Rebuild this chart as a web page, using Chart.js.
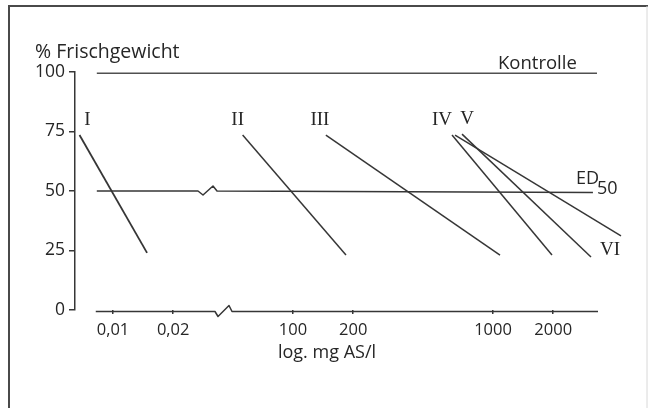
<!DOCTYPE html>
<html>
<head>
<meta charset="utf-8">
<script src="https://cdn.jsdelivr.net/npm/chart.js@4/dist/chart.umd.min.js"></script>
<style>
  html, body { margin: 0; padding: 0; background: #fff; }
  #wrap { width: 648px; height: 408px; position: relative; }
  canvas { display: block; }
</style>
</head>
<body>
<div id="wrap"><canvas id="c" width="648" height="408"></canvas></div>
<script>
// ---- data ----
const seriesNames = ['I', 'II', 'III', 'IV', 'V', 'VI'];
// concentration (mg AS/l) at start and end of each dose-response line
const startConc = [0.0068, 56, 146, 624, 700, 646];
const endConc   = [0.0148, 184, 1084, 1972, 3090, 4365];
// % Frischgewicht at start and end
const startPct  = [73.5, 73.5, 73.5, 73.5, 73.9, 73.5];
const endPct    = [24.0, 23.1, 23.1, 23.1, 22.3, 31.1];

const kontrolleConc = [0.0083, 3311];
const kontrollePct  = [99.5, 99.5];
const ed50Conc = [0.0083, 3160];
const ed50Pct  = 50;
const xAxisConc = [0.0082, 3350];

const xTickValues = [0.01, 0.02, 100, 200, 1000, 2000];
const xTickLabels = ['0,01', '0,02', '100', '200', '1000', '2000'];
const yTickValues = [0, 25, 50, 75, 100];

// broken log axis: values below 1 use log10 directly, values above are shifted left
function toU(v) {
  const l = Math.log10(v);
  return v < 1 ? l : l - 3.1;
}

const FONT = "'Open Sans', 'DejaVu Sans', sans-serif";
const SERIF = "'Liberation Serif', 'DejaVu Serif', serif";
const INK = '#262626';
const LINE = '#363636';

const datasets = seriesNames.map((name, i) => ({
  label: name,
  data: [{x: toU(startConc[i]), y: startPct[i]}, {x: toU(endConc[i]), y: endPct[i]}],
  borderColor: LINE,
  borderWidth: i === 0 ? 1.8 : 1.5,
  pointRadius: 0,
  fill: false,
  clip: false
}));
datasets.push({
  label: 'Kontrolle',
  data: kontrolleConc.map((c, i) => ({x: toU(c), y: kontrollePct[i]})),
  borderColor: '#505050',
  borderWidth: 1.6,
  pointRadius: 0,
  fill: false,
  clip: false
});

const labelOffsets = [[8, -15], [-5, -15], [-6, -15], [-10, -15], [5, -15]];

const decor = {
  id: 'decor',
  beforeDraw(chart) {
    const ctx = chart.ctx;
    ctx.save();
    ctx.fillStyle = '#fff';
    ctx.fillRect(0, 0, chart.width, chart.height);
    // frame
    ctx.strokeStyle = '#4a4a4a';
    ctx.lineWidth = 2;
    ctx.beginPath();
    ctx.moveTo(9, 410);
    ctx.lineTo(9, 6);
    ctx.lineTo(650, 6);
    ctx.stroke();
    ctx.strokeStyle = '#d8d8d8';
    ctx.lineWidth = 1;
    ctx.beginPath();
    ctx.moveTo(647, 6);
    ctx.lineTo(647, 408);
    ctx.stroke();
    ctx.restore();
  },
  afterDatasetsDraw(chart) {
    const ctx = chart.ctx;
    const xs = chart.scales.x, ys = chart.scales.y;
    ctx.save();
    ctx.strokeStyle = LINE;
    ctx.lineWidth = 1.5;
    ctx.lineJoin = 'round';

    // x axis line with break
    const y0 = ys.getPixelForValue(0) + 1.5;
    const xa = xs.getPixelForValue(toU(xAxisConc[0]));
    const xb = xs.getPixelForValue(toU(xAxisConc[1]));
    const bx = xs.getPixelForValue(-1.445);
    ctx.beginPath();
    ctx.moveTo(xa, y0);
    ctx.lineTo(bx - 9, y0);
    ctx.lineTo(bx - 6, y0 + 5);
    ctx.lineTo(bx + 5, y0 - 6);
    ctx.lineTo(bx + 8, y0);
    ctx.lineTo(xb, y0);
    ctx.stroke();

    // ED50 line with break
    const ye = ys.getPixelForValue(ed50Pct);
    const ea = xs.getPixelForValue(toU(ed50Conc[0]));
    const eb = xs.getPixelForValue(toU(ed50Conc[1]));
    const ex = xs.getPixelForValue(-1.525);
    ctx.beginPath();
    ctx.moveTo(ea, ye);
    ctx.lineTo(ex - 10, ye);
    ctx.lineTo(ex - 5, ye + 4);
    ctx.lineTo(ex + 5, ye - 5);
    ctx.lineTo(ex + 9, ye);
    ctx.lineTo(eb, ye + 1.5);
    ctx.stroke();

    // texts
    ctx.fillStyle = INK;
    ctx.textBaseline = 'middle';
    ctx.textAlign = 'left';
    ctx.font = '19.5px ' + FONT;
    ctx.fillText('% Frischgewicht', 35, 52);
    ctx.font = '18.5px ' + FONT;
    ctx.fillText('Kontrolle', 498, 64);
    ctx.font = '18px ' + FONT;
    ctx.fillText('ED', 576, 179);
    ctx.fillText('50', 597, 189);
    ctx.textAlign = 'center';
    ctx.font = '18px ' + FONT;
    ctx.fillText('log. mg AS/l', 327, 353);

    // series labels
    ctx.font = '19px ' + SERIF;
    ctx.textAlign = 'center';
    seriesNames.forEach((name, i) => {
      let px, py;
      if (i < 5) {
        px = xs.getPixelForValue(toU(startConc[i])) + labelOffsets[i][0];
        py = ys.getPixelForValue(startPct[i]) + labelOffsets[i][1];
      } else {
        px = xs.getPixelForValue(toU(endConc[i])) - 11;
        py = ys.getPixelForValue(endPct[i]) + 14;
      }
      ctx.fillText(name, px, py);
    });
    ctx.restore();
  }
};

new Chart(document.getElementById('c'), {
  type: 'line',
  data: { datasets },
  options: {
    responsive: false,
    animation: false,
    events: [],
    layout: { padding: { left: 0, top: 72, right: 18, bottom: 0 } },
    plugins: { legend: { display: false }, tooltip: { enabled: false } },
    scales: {
      x: {
        type: 'linear',
        min: -2.19,
        max: 0.585,
        afterFit(scale) { scale.height = 98; },
        afterBuildTicks(scale) {
          scale.ticks = xTickValues.map(v => ({ value: toU(v) }));
        },
        border: { display: false },
        grid: { drawOnChartArea: false, drawTicks: true, tickLength: 4, color: LINE, lineWidth: 1.5 },
        ticks: {
          autoSkip: false,
          maxRotation: 0,
          padding: 6,
          color: INK,
          font: { family: FONT, size: 16.5 },
          callback: (v, i) => xTickLabels[i]
        }
      },
      y: {
        type: 'linear',
        min: 0,
        max: 100,
        afterFit(scale) { scale.width = 75; },
        afterBuildTicks(scale) {
          scale.ticks = yTickValues.map(v => ({ value: v }));
        },
        border: { display: true, color: LINE, width: 1.5 },
        grid: { drawOnChartArea: false, drawTicks: true, tickLength: 6, color: LINE, lineWidth: 1.5 },
        ticks: {
          padding: 4,
          color: INK,
          font: { family: FONT, size: 17.5 },
          callback: v => String(v)
        }
      }
    }
  },
  plugins: [decor]
});
</script>
</body>
</html>
